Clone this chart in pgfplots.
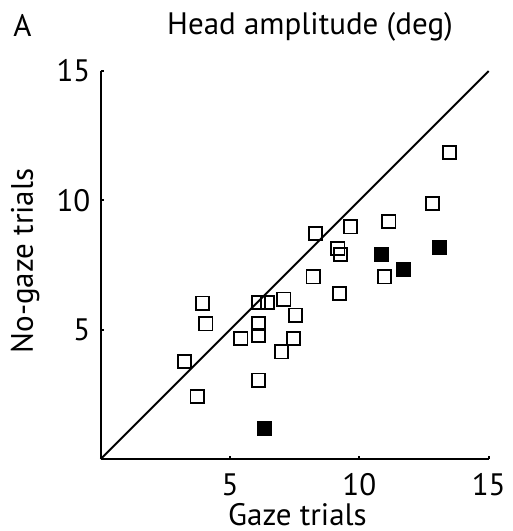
\documentclass[border=0pt]{standalone}
\usepackage{fontspec}
\setmainfont{PT Sans}
\setsansfont{PT Sans}
\usepackage{pgfplots}
\pgfplotsset{compat=1.18}

\pgfplotstableread{
gaze nogaze
13.49 11.84
12.82 9.87
11.14 9.19
9.66 8.97
8.30 8.71
9.17 8.13
9.27 7.90
8.21 7.04
10.98 7.04
9.24 6.40
3.94 6.03
6.09 6.05
6.45 6.05
7.08 6.18
7.53 5.56
4.07 5.22
6.09 5.24
6.09 4.79
5.42 4.66
7.46 4.66
6.99 4.14
3.25 3.78
6.11 3.05
3.73 2.41
}\opentrials

\pgfplotstableread{
gaze nogaze
10.87 7.90
13.10 8.16
11.71 7.32
6.34 1.19
}\filledtrials

\newcommand{\lblfont}{\fontsize{15.5}{18}\selectfont}

\begin{document}
\begin{tikzpicture}
\useasboundingbox (-50.35pt,-36pt) rectangle (206.15pt,229.5pt);
\begin{axis}[
    at={(0,0)}, anchor=south west,
    scale only axis,
    width=194pt, height=194pt,
    xmin=0, xmax=15, ymin=0, ymax=15,
    axis x line*=bottom, axis y line*=left,
    axis line style={line width=1pt, black},
    xtick={5,10,15}, ytick={5,10,15},
    tick align=inside,
    major tick length=1.5pt,
    tick style={line width=1pt, black},
    tick label style={font=\lblfont},
    /pgf/number format/assume math mode=true,
    xticklabel style={inner sep=0pt, yshift=-7pt},
    yticklabel style={inner sep=0pt, xshift=-5pt},
    clip=false,
]
% identity line
\addplot[black, line width=1pt] coordinates {(0,0) (15,15)};
\addplot[only marks, mark=square, mark size=3.3pt,
    mark options={line width=0.9pt, draw=black, fill=white}]
    table[x=gaze, y=nogaze] {\opentrials};
\addplot[only marks, mark=square*, mark size=3.5pt,
    mark options={line width=0.5pt, draw=black, fill=black}]
    table[x=gaze, y=nogaze] {\filledtrials};
\end{axis}
\node[font=\lblfont, anchor=base] at (-39.1pt,211pt) {A};
\node[font=\lblfont, anchor=base] at (104.65pt,212pt) {Head amplitude (deg)};
\node[font=\lblfont, anchor=base, rotate=90] at (-33.85pt,99pt) {No-gaze trials};
\node[font=\lblfont, anchor=base] at (98.4pt,-33pt) {Gaze trials};
\end{tikzpicture}
\end{document}
